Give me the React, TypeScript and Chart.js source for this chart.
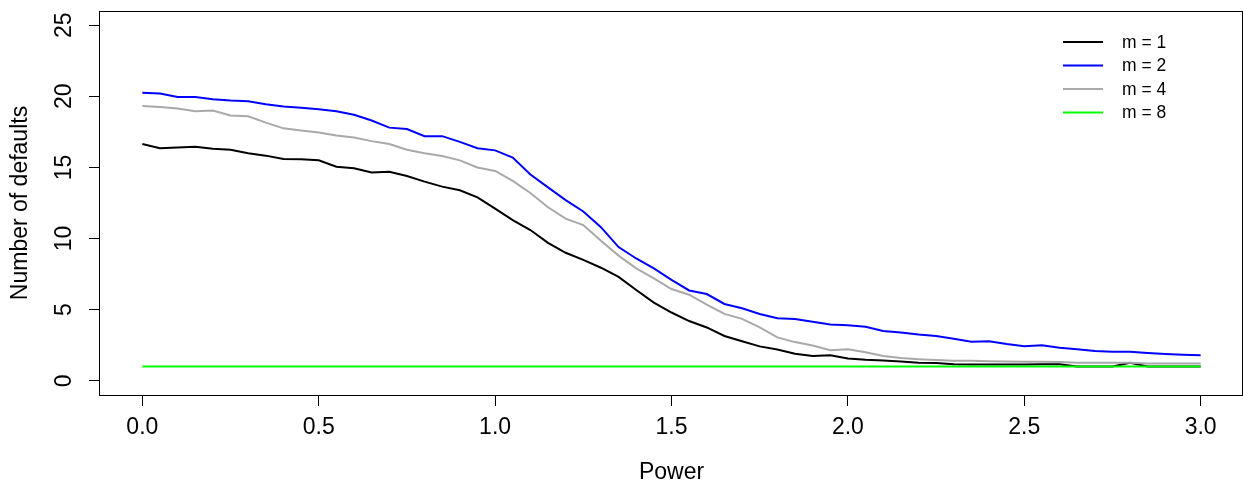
import React, { useEffect, useRef } from "react";
import { Chart, registerables } from "chart.js";

Chart.register(...registerables);

const powers = [
  0, 0.05, 0.1, 0.15, 0.2, 0.25, 0.3, 0.35, 0.4, 0.45, 0.5, 0.55, 0.6, 0.65, 0.7, 0.75,
  0.8, 0.85, 0.9, 0.95, 1.0, 1.05, 1.1, 1.15, 1.2, 1.25, 1.3, 1.35, 1.4, 1.45, 1.5,
  1.55, 1.6, 1.65, 1.7, 1.75, 1.8, 1.85, 1.9, 1.95, 2.0, 2.05, 2.1, 2.15, 2.2, 2.25,
  2.3, 2.35, 2.4, 2.45, 2.5, 2.55, 2.6, 2.65, 2.7, 2.75, 2.8, 2.85, 2.9, 2.95, 3.0,
];

const m1 = [
  16.65, 16.35, 16.4, 16.45, 16.32, 16.25, 16.0, 15.83, 15.6, 15.57, 15.5, 15.05, 14.95,
  14.65, 14.7, 14.4, 14.0, 13.65, 13.4, 12.9, 12.1, 11.3, 10.6, 9.7, 9.0, 8.5, 7.95, 7.3,
  6.38, 5.5, 4.8, 4.2, 3.75, 3.15, 2.78, 2.42, 2.2, 1.9, 1.75, 1.8, 1.57, 1.47, 1.42, 1.35,
  1.27, 1.25, 1.17, 1.15, 1.15, 1.15, 1.15, 1.17, 1.17, 1.0, 1.0, 1.0, 1.27, 1.0, 1.0, 1.0, 1.0,
];

const m2 = [
  20.25, 20.2, 19.95, 19.95, 19.8, 19.7, 19.65, 19.45, 19.28, 19.2, 19.1, 18.95, 18.7,
  18.3, 17.8, 17.7, 17.2, 17.2, 16.8, 16.35, 16.2, 15.7, 14.5, 13.6, 12.7, 11.9, 10.8,
  9.4, 8.6, 7.9, 7.1, 6.35, 6.1, 5.4, 5.1, 4.7, 4.4, 4.35, 4.15, 3.95, 3.9, 3.8, 3.5, 3.4,
  3.25, 3.15, 2.95, 2.75, 2.78, 2.58, 2.42, 2.5, 2.32, 2.22, 2.1, 2.04, 2.04, 1.95, 1.88,
  1.83, 1.8,
];

const m4 = [
  19.32, 19.25, 19.15, 18.95, 19.0, 18.65, 18.6, 18.15, 17.75, 17.6, 17.45, 17.25, 17.1,
  16.85, 16.65, 16.25, 16.0, 15.8, 15.5, 15.0, 14.75, 14.05, 13.2, 12.2, 11.4, 10.95,
  9.85, 8.8, 7.9, 7.2, 6.45, 6.05, 5.35, 4.7, 4.35, 3.75, 3.05, 2.72, 2.48, 2.15, 2.22,
  2.0, 1.75, 1.6, 1.52, 1.46, 1.41, 1.4, 1.38, 1.35, 1.34, 1.34, 1.32, 1.27, 1.27, 1.27,
  1.27, 1.22, 1.22, 1.22, 1.22,
];

const m8 = [
  1, 1, 1, 1, 1, 1, 1, 1, 1, 1, 1, 1, 1, 1, 1, 1, 1, 1, 1, 1, 1, 1, 1, 1, 1, 1, 1, 1, 1, 1,
  1, 1, 1, 1, 1, 1, 1, 1, 1, 1, 1, 1, 1, 1, 1, 1, 1, 1, 1, 1, 1, 1, 1, 1, 1, 1, 1, 1, 1, 1, 1,
];

const seriesLabels = ["m = 1", "m = 2", "m = 4", "m = 8"];
const seriesColors = ["#000000", "#0000FF", "#A9A9A9", "#00FF00"];

const xTicks = [0, 0.5, 1, 1.5, 2, 2.5, 3];
const xTickLabels = ["0.0", "0.5", "1.0", "1.5", "2.0", "2.5", "3.0"];
const yTicks = [0, 5, 10, 15, 20, 25];
const yTickLabels = ["0", "5", "10", "15", "20", "25"];

const FONT = "'Liberation Sans', Arial, sans-serif";

const boxPlugin = {
  id: "rBox",
  afterDraw(chart: any) {
    const { ctx, chartArea: a } = chart;
    ctx.save();
    ctx.strokeStyle = "#000";
    ctx.lineWidth = 1;
    const l = Math.round(a.left) - 0.5;
    const t = Math.round(a.top) + 0.5;
    const r = Math.round(a.right) - 0.5;
    const b = Math.round(a.bottom) + 0.5;
    ctx.strokeRect(l, t, r - l, b - t);
    ctx.restore();
  },
};

const legendPlugin = {
  id: "rLegend",
  afterDraw(chart: any) {
    const { ctx } = chart;
    ctx.save();
    ctx.font = `17.5px ${FONT}`;
    ctx.textBaseline = "middle";
    ctx.textAlign = "left";
    chart.data.datasets.forEach((ds: any, i: number) => {
      const y = 42 + i * 23.5;
      ctx.strokeStyle = ds.borderColor;
      ctx.lineWidth = 2;
      ctx.beginPath();
      ctx.moveTo(1063, y);
      ctx.lineTo(1103, y);
      ctx.stroke();
      ctx.fillStyle = "#000";
      ctx.fillText(ds.label, 1122, y + 1);
    });
    ctx.restore();
  },
};

export default function App() {
  const ref = useRef<HTMLCanvasElement | null>(null);

  useEffect(() => {
    if (!ref.current) return;
    const series = [m1, m2, m4, m8];
    const chart = new Chart(ref.current, {
      type: "line",
      data: {
        datasets: series.map((vals, i) => ({
          label: seriesLabels[i],
          data: powers.map((p, j) => ({ x: p, y: vals[j] })),
          borderColor: seriesColors[i],
          backgroundColor: seriesColors[i],
          borderWidth: 2,
          pointRadius: 0,
          fill: false,
          tension: 0,
          order: 3 - i,
        })),
      },
      options: {
        responsive: false,
        animation: false,
        devicePixelRatio: 1,
        layout: { padding: { top: 11, right: 0, left: 0, bottom: 0 } },
        plugins: {
          legend: { display: false },
          tooltip: { enabled: false },
        },
        scales: {
          x: {
            type: "linear",
            min: -0.12,
            max: 3.12,
            afterBuildTicks: (s: any) => {
              s.ticks = xTicks.map((v) => ({ value: v }));
            },
            afterFit: (s: any) => {
              s.height = 91;
              s.paddingLeft = 0;
              s.paddingRight = 0;
              s.paddingTop = 0;
              s.paddingBottom = 0;
            },
            grid: {
              display: true,
              drawOnChartArea: false,
              drawTicks: true,
              tickLength: 11,
              color: "#000",
              lineWidth: 1,
            },
            border: { display: false },
            ticks: {
              font: { family: FONT, size: 23 },
              color: "#000",
              padding: 8,
              minRotation: 0,
              maxRotation: 0,
              autoSkip: false,
              callback: (_v: any, i: number) => xTickLabels[i],
            },
            title: {
              display: true,
              text: "Power",
              font: { family: FONT, size: 23 },
              color: "#000",
              padding: { top: 0, bottom: 0 },
            },
          },
          y: {
            type: "linear",
            min: -1,
            max: 26,
            afterBuildTicks: (s: any) => {
              s.ticks = yTicks.map((v) => ({ value: v }));
            },
            afterFit: (s: any) => {
              s.width = 100;
              s.paddingLeft = 0;
              s.paddingRight = 0;
              s.paddingTop = 0;
              s.paddingBottom = 0;
            },
            grid: {
              display: true,
              drawOnChartArea: false,
              drawTicks: true,
              tickLength: 11,
              color: "#000",
              lineWidth: 1,
            },
            border: { display: false },
            ticks: {
              font: { family: FONT, size: 23 },
              color: "#000",
              padding: 12,
              minRotation: 90,
              maxRotation: 90,
              crossAlign: "center",
              autoSkip: false,
              callback: (_v: any, i: number) => yTickLabels[i],
            },
            title: {
              display: true,
              text: "Number of defaults",
              font: { family: FONT, size: 23 },
              color: "#000",
              padding: { top: 7, bottom: 0 },
            },
          },
        },
      },
      plugins: [boxPlugin, legendPlugin],
    } as any);
    return () => chart.destroy();
  }, []);

  return (
    <div style={{ position: "absolute", left: 0, top: 0, width: 1243, height: 486, background: "#fff" }}>
      <canvas ref={ref} width={1243} height={486} style={{ display: "block" }} />
    </div>
  );
}
